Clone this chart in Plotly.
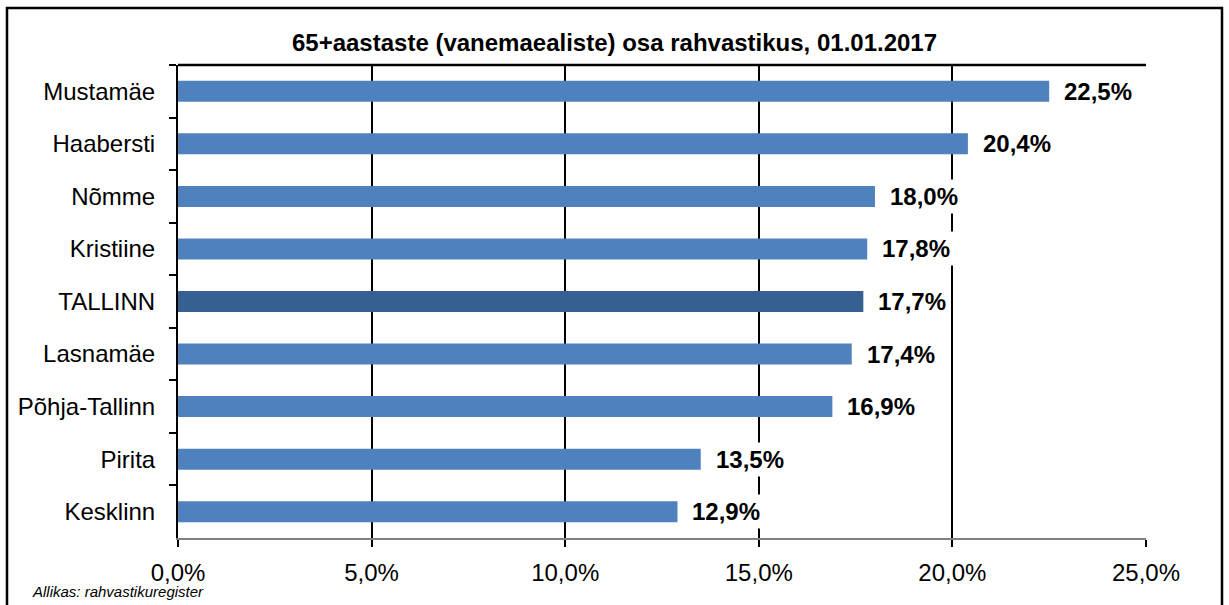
import plotly.graph_objects as go

categories = ["Mustamäe", "Haabersti", "Nõmme", "Kristiine", "TALLINN",
              "Lasnamäe", "Põhja-Tallinn", "Pirita", "Kesklinn"]
values = [22.5, 20.4, 18.0, 17.8, 17.7, 17.4, 16.9, 13.5, 12.9]
tick_values = [0, 5, 10, 15, 20, 25]
tick_labels = ["0,0%", "5,0%", "10,0%", "15,0%", "20,0%", "25,0%"]
title_text = "65+aastaste (vanemaealiste) osa rahvastikus, 01.01.2017"
source_text = "Allikas: rahvastikuregister"

bar_colors = ["#376092" if c == "TALLINN" else "#4F81BD" for c in categories]

FONT = "Liberation Sans, Arial, sans-serif"
FS = 24

fig = go.Figure()
fig.add_trace(go.Bar(
    x=values, y=categories, orientation="h",
    marker=dict(color=bar_colors, line=dict(width=0)),
    hoverinfo="skip",
))

for c, v in zip(categories, values):
    fig.add_annotation(
        x=v, y=c, xref="x", yref="y",
        text=f"{v:.1f}".replace(".", ",") + "%",
        showarrow=False, xanchor="left", xshift=11,
        font=dict(family=FONT, size=FS, color="black", weight="bold"),
        bgcolor="white", borderpad=3,
    )

L, R, T, B = 178, 83, 65, 67
W, H = 1229, 605
pw, ph = W - L - R, H - T - B
def px(x):
    return (x - L) / pw
def py(y):
    return (H - B - y) / ph

# source note
fig.add_annotation(
    x=px(30), y=py(591), xref="paper", yref="paper",
    text=f"<i>{source_text}</i>", showarrow=False,
    xanchor="left", yanchor="middle",
    font=dict(family=FONT, size=15, color="black"),
)

# outer chart border
fig.add_shape(type="rect", xref="paper", yref="paper",
              x0=px(7), x1=px(1222), y0=py(612), y1=py(8),
              line=dict(color="black", width=2.5), layer="above")
# top border of plot area
fig.add_shape(type="line", xref="x", yref="paper",
              x0=0, x1=25, y0=1, y1=1,
              line=dict(color="black", width=2.5), layer="above")

fig.update_layout(
    width=W, height=H,
    margin=dict(l=L, r=R, t=T, b=B),
    paper_bgcolor="white", plot_bgcolor="white",
    bargap=0.6,
    showlegend=False,
    title=dict(text=f"<b>{title_text}</b>", x=0.5, xanchor="center",
               y=1 - 43 / H, yanchor="middle",
               font=dict(family=FONT, size=FS, color="black")),
    font=dict(family=FONT, color="black"),
    xaxis=dict(
        range=[0, 25], tickvals=tick_values, ticktext=tick_labels,
        showgrid=True, gridcolor="black", gridwidth=1.8,
        showline=True, linecolor="#808080", linewidth=2,
        ticks="outside", ticklen=7, tickcolor="black", tickwidth=1.5,
        ticklabelstandoff=5,
        tickfont=dict(family=FONT, size=FS, color="black"),
        zeroline=False, fixedrange=True,
    ),
    yaxis=dict(
        autorange="reversed",
        showline=True, linecolor="black", linewidth=2,
        ticks="outside", tickson="boundaries", ticklen=7,
        tickcolor="black", tickwidth=1.5,
        ticklabelstandoff=16,
        tickfont=dict(family=FONT, size=FS, color="black"),
        showgrid=False, fixedrange=True,
    ),
)

fig.write_html("out.html", config={"displayModeBar": False},
               post_script="document.body.style.margin='0';")
